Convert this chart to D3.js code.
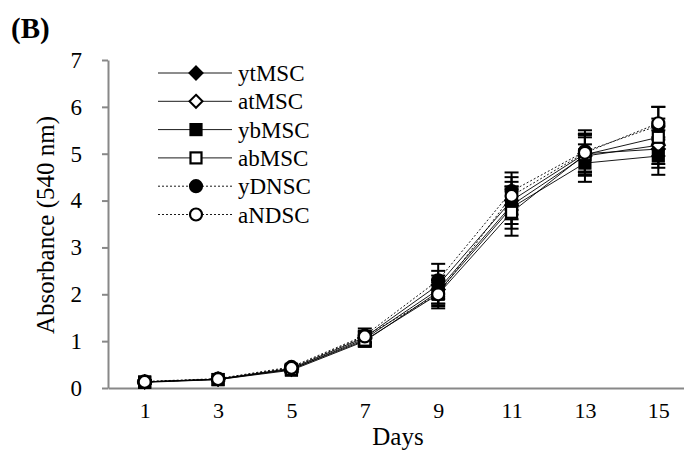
<!DOCTYPE html>
<html>
<head>
<meta charset="utf-8">
<script src="https://cdn.jsdelivr.net/npm/d3@7"></script>
<style>
  body { margin: 0; background: #fff; }
  text { font-family: "Liberation Serif", "Times New Roman", serif; }
</style>
</head>
<body>
<script>
// data
var days = ["1", "3", "5", "7", "9", "11", "13", "15"];
var seriesNames = ["ytMSC", "atMSC", "ybMSC", "abMSC", "yDNSC", "aNDSC"];
var ytMSC = [0.13, 0.19, 0.42, 1.08, 2.20, 4.00, 5.00, 5.10];
var atMSC = [0.13, 0.19, 0.40, 1.05, 2.10, 3.90, 4.95, 5.18];
var ybMSC = [0.12, 0.18, 0.38, 1.00, 2.05, 3.85, 4.80, 4.95];
var abMSC = [0.13, 0.18, 0.40, 1.02, 2.00, 3.75, 4.98, 5.35];
var yDNSC = [0.14, 0.20, 0.45, 1.12, 2.30, 4.20, 5.05, 5.60];
var aNDSC = [0.13, 0.19, 0.43, 1.10, 2.00, 4.10, 5.02, 5.65];
var ytErr = [0.03, 0.03, 0.05, 0.12, 0.30, 0.40, 0.40, 0.40];
var atErr = [0.03, 0.03, 0.05, 0.12, 0.30, 0.40, 0.40, 0.40];
var ybErr = [0.03, 0.03, 0.05, 0.12, 0.25, 0.45, 0.40, 0.40];
var abErr = [0.03, 0.03, 0.05, 0.12, 0.25, 0.50, 0.45, 0.40];
var yDErr = [0.03, 0.03, 0.05, 0.15, 0.35, 0.40, 0.45, 0.40];
var aNErr = [0.03, 0.03, 0.05, 0.12, 0.30, 0.40, 0.40, 0.35];
var yTicks = [0, 1, 2, 3, 4, 5, 6, 7];

var values = [ytMSC, atMSC, ybMSC, abMSC, yDNSC, aNDSC];
var errors = [ytErr, atErr, ybErr, abErr, yDErr, aNErr];
var markers = ["diamondFill", "diamondOpen", "squareFill", "squareOpen", "circleFill", "circleOpen"];
var dashed = [false, false, false, false, true, true];

var w = 684, h = 450;
var padLeft = 108, padTop = 60, axisY = 388;

var svg = d3.select("body").append("svg")
    .attr("width", w)
    .attr("height", h);

var x = d3.scalePoint().domain(days).range([padLeft, 695]).padding(0.5);
var y = d3.scaleLinear().domain([0, 7]).range([axisY, padTop]);

// axes
var xAxis = d3.axisBottom(x).tickSize(0).tickPadding(14);
var gx = svg.append("g")
    .attr("transform", "translate(0," + axisY + ")")
    .call(xAxis);
gx.select(".domain").attr("stroke", "#888").attr("stroke-width", 2);
gx.selectAll("text").attr("font-size", "22px").attr("fill", "#000")
  .attr("font-family", "Liberation Serif");

var yAxis = d3.axisLeft(y).tickValues(yTicks).tickFormat(d3.format("d"))
    .tickSizeInner(6).tickSizeOuter(0).tickPadding(20);
var gy = svg.append("g")
    .attr("transform", "translate(" + padLeft + ",0)")
    .call(yAxis);
gy.select(".domain").attr("stroke", "#888").attr("stroke-width", 2);
gy.selectAll(".tick line").attr("stroke", "#888").attr("stroke-width", 2);
gy.selectAll("text").attr("font-size", "23px").attr("fill", "#000")
  .attr("font-family", "Liberation Serif");

// axis titles
svg.append("text")
    .attr("x", 398).attr("y", 445)
    .attr("text-anchor", "middle")
    .attr("font-size", "25px")
    .text("Days");
svg.append("text")
    .attr("transform", "translate(54,225) rotate(-90)")
    .attr("text-anchor", "middle")
    .attr("font-size", "25px")
    .text("Absorbance (540 nm)");
svg.append("text")
    .attr("x", 11).attr("y", 38)
    .attr("font-size", "29px")
    .attr("font-weight", "bold")
    .text("(B)");

function drawMarker(g, type, cx, cy) {
  var fill = type.indexOf("Fill") > -1 ? "#000" : "#fff";
  if (type.indexOf("diamond") === 0) {
    var r = 6.5;
    g.append("path")
      .attr("d", "M" + cx + "," + (cy - r) + "L" + (cx + r) + "," + cy + "L" + cx + "," + (cy + r) + "L" + (cx - r) + "," + cy + "Z")
      .attr("fill", fill).attr("stroke", "#000").attr("stroke-width", 2);
  } else if (type.indexOf("square") === 0) {
    var s = 5.5;
    g.append("rect")
      .attr("x", cx - s).attr("y", cy - s).attr("width", 2 * s).attr("height", 2 * s)
      .attr("fill", fill).attr("stroke", "#000").attr("stroke-width", 2.2);
  } else {
    g.append("circle")
      .attr("cx", cx).attr("cy", cy).attr("r", 6)
      .attr("fill", fill).attr("stroke", "#000").attr("stroke-width", 2.2);
  }
}

var line = d3.line()
    .x(function(d, i) { return x(days[i]); })
    .y(function(d) { return y(d); });

// lines
values.forEach(function(vals, k) {
  svg.append("path")
    .datum(vals)
    .attr("d", line)
    .attr("fill", "none")
    .attr("stroke", "#000")
    .attr("stroke-width", 0.9)
    .attr("stroke-dasharray", dashed[k] ? "2,2" : null);
});

// error bars
values.forEach(function(vals, k) {
  var g = svg.append("g");
  vals.forEach(function(v, i) {
    var cx = x(days[i]), e = errors[k][i];
    g.append("line")
      .attr("x1", cx).attr("x2", cx)
      .attr("y1", y(v - e)).attr("y2", y(v + e))
      .attr("stroke", "#000").attr("stroke-width", 2);
    [v - e, v + e].forEach(function(c) {
      g.append("line")
        .attr("x1", cx - 7).attr("x2", cx + 7)
        .attr("y1", y(c)).attr("y2", y(c))
        .attr("stroke", "#000").attr("stroke-width", 2);
    });
  });
});
// markers
values.forEach(function(vals, k) {
  var g = svg.append("g");
  vals.forEach(function(v, i) {
    drawMarker(g, markers[k], x(days[i]), y(v));
  });
});

// legend
var legend = svg.append("g");
seriesNames.forEach(function(name, k) {
  var ly = 73 + k * 28.3;
  legend.append("line")
    .attr("x1", 158).attr("x2", 232)
    .attr("y1", ly).attr("y2", ly)
    .attr("stroke", "#000")
    .attr("stroke-width", 0.9)
    .attr("stroke-dasharray", dashed[k] ? "2,2" : null);
  drawMarker(legend, markers[k], 196, ly);
  legend.append("text")
    .attr("x", 238).attr("y", ly + 8)
    .attr("font-size", "23px")
    .text(name);
});
</script>
</body>
</html>
